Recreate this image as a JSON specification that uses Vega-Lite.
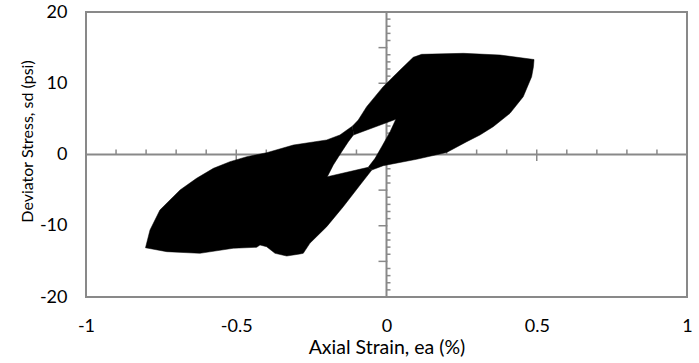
{
  "$schema": "https://vega.github.io/schema/vega-lite/v6.json",
  "width": 601,
  "height": 285,
  "autosize": {"type": "none"},
  "padding": {"left": 86, "top": 12, "right": 12, "bottom": 66},
  "background": "white",
  "config": {
    "view": {"stroke": "#898989", "strokeWidth": 2},
    "font": "Lato",
    "axis": {"grid": false, "domain": false, "ticks": false, "tickSize": 0, "labelColor": "#000000", "titleColor": "#000000", "labelFont": "Lato", "titleFont": "Lato", "titleFontWeight": "normal"}
  },
  "datasets": {
    "shape": [
      {"piece": "A", "i": 1, "x": -0.049, "y": -2.18},
      {"piece": "A", "i": 2, "x": -0.088, "y": -4.28},
      {"piece": "A", "i": 3, "x": -0.144, "y": -7.33},
      {"piece": "A", "i": 4, "x": -0.199, "y": -10.13},
      {"piece": "A", "i": 5, "x": -0.255, "y": -12.46},
      {"piece": "A", "i": 6, "x": -0.277, "y": -13.87},
      {"piece": "A", "i": 7, "x": -0.288, "y": -13.96},
      {"piece": "A", "i": 8, "x": -0.332, "y": -14.25},
      {"piece": "A", "i": 9, "x": -0.371, "y": -13.87},
      {"piece": "A", "i": 10, "x": -0.399, "y": -12.94},
      {"piece": "A", "i": 11, "x": -0.421, "y": -12.7},
      {"piece": "A", "i": 12, "x": -0.432, "y": -13.02},
      {"piece": "A", "i": 13, "x": -0.51, "y": -13.16},
      {"piece": "A", "i": 14, "x": -0.621, "y": -13.87},
      {"piece": "A", "i": 15, "x": -0.731, "y": -13.64},
      {"piece": "A", "i": 16, "x": -0.802, "y": -13.09},
      {"piece": "A", "i": 17, "x": -0.787, "y": -10.6},
      {"piece": "A", "i": 18, "x": -0.754, "y": -7.79},
      {"piece": "A", "i": 19, "x": -0.687, "y": -4.98},
      {"piece": "A", "i": 20, "x": -0.632, "y": -3.34},
      {"piece": "A", "i": 21, "x": -0.576, "y": -1.94},
      {"piece": "A", "i": 22, "x": -0.521, "y": -1.01},
      {"piece": "A", "i": 23, "x": -0.465, "y": -0.31},
      {"piece": "A", "i": 24, "x": -0.399, "y": 0.25},
      {"piece": "A", "i": 25, "x": -0.31, "y": 1.33},
      {"piece": "A", "i": 26, "x": -0.199, "y": 2.04},
      {"piece": "A", "i": 27, "x": -0.155, "y": 2.74},
      {"piece": "A", "i": 28, "x": -0.113, "y": 4.0},
      {"piece": "A", "i": 29, "x": -0.11, "y": 2.74},
      {"piece": "A", "i": 30, "x": -0.127, "y": 1.8},
      {"piece": "A", "i": 31, "x": -0.149, "y": 0.39},
      {"piece": "A", "i": 32, "x": -0.177, "y": -1.47},
      {"piece": "A", "i": 33, "x": -0.197, "y": -3.12},
      {"piece": "A", "i": 34, "x": -0.061, "y": -1.8},
      {"piece": "B", "i": 1, "x": -0.113, "y": 4.0},
      {"piece": "B", "i": 2, "x": -0.094, "y": 4.84},
      {"piece": "B", "i": 3, "x": -0.066, "y": 6.71},
      {"piece": "B", "i": 4, "x": -0.011, "y": 9.52},
      {"piece": "B", "i": 5, "x": 0.045, "y": 11.86},
      {"piece": "B", "i": 6, "x": 0.089, "y": 13.64},
      {"piece": "B", "i": 7, "x": 0.117, "y": 14.06},
      {"piece": "B", "i": 8, "x": 0.256, "y": 14.2},
      {"piece": "B", "i": 9, "x": 0.378, "y": 13.96},
      {"piece": "B", "i": 10, "x": 0.491, "y": 13.33},
      {"piece": "B", "i": 11, "x": 0.489, "y": 12.32},
      {"piece": "B", "i": 12, "x": 0.483, "y": 10.92},
      {"piece": "B", "i": 13, "x": 0.455, "y": 8.11},
      {"piece": "B", "i": 14, "x": 0.411, "y": 5.78},
      {"piece": "B", "i": 15, "x": 0.355, "y": 3.9},
      {"piece": "B", "i": 16, "x": 0.311, "y": 2.74},
      {"piece": "B", "i": 17, "x": 0.267, "y": 1.8},
      {"piece": "B", "i": 18, "x": 0.2, "y": 0.28},
      {"piece": "B", "i": 19, "x": 0.1, "y": -0.67},
      {"piece": "B", "i": 20, "x": -0.011, "y": -1.57},
      {"piece": "B", "i": 21, "x": -0.049, "y": -2.18},
      {"piece": "B", "i": 22, "x": -0.061, "y": -1.8},
      {"piece": "B", "i": 23, "x": -0.038, "y": -0.53},
      {"piece": "B", "i": 24, "x": -0.016, "y": 1.09},
      {"piece": "B", "i": 25, "x": 0.012, "y": 3.2},
      {"piece": "B", "i": 26, "x": 0.031, "y": 4.94},
      {"piece": "B", "i": 27, "x": -0.11, "y": 2.74}
    ],
    "xminor": [
      {"v": -0.9}, {"v": -0.8}, {"v": -0.7}, {"v": -0.6}, {"v": -0.4}, {"v": -0.3}, {"v": -0.2}, {"v": -0.1},
      {"v": 0.1}, {"v": 0.2}, {"v": 0.3}, {"v": 0.4}, {"v": 0.6}, {"v": 0.7}, {"v": 0.8}, {"v": 0.9}
    ],
    "xmajor": [{"v": -0.5}, {"v": 0.5}],
    "ymajor": [{"v": -15}, {"v": -10}, {"v": -5}, {"v": 5}, {"v": 10}, {"v": 15}],
    "yminor": [
      {"v": -19}, {"v": -18}, {"v": -17}, {"v": -16}, {"v": -14}, {"v": -13}, {"v": -12}, {"v": -11},
      {"v": -9}, {"v": -8}, {"v": -7}, {"v": -6}, {"v": -4}, {"v": -3}, {"v": -2}, {"v": -1},
      {"v": 1}, {"v": 2}, {"v": 3}, {"v": 4}, {"v": 6}, {"v": 7}, {"v": 8}, {"v": 9},
      {"v": 11}, {"v": 12}, {"v": 13}, {"v": 14}, {"v": 16}, {"v": 17}, {"v": 18}, {"v": 19}
    ]
  },
  "layer": [
    {
      "data": {"name": "shape"},
      "mark": {"type": "point", "opacity": 0},
      "encoding": {
        "x": {"field": "x", "type": "quantitative", "scale": {"domain": [-1, 1], "nice": false, "zero": false},
          "axis": {"values": [-1, -0.5, 0, 0.5, 1], "labelExpr": "'' + datum.value", "title": "Axial Strain, ea (%)", "labelFontSize": 18, "titleFontSize": 19.5, "labelBaseline": "alphabetic", "labelPadding": 34.5, "labelFlush": false, "titleBaseline": "alphabetic", "titleY": 56, "titleX": 300.5, "titleAlign": "center"}},
        "y": {"field": "y", "type": "quantitative", "scale": {"domain": [-20, 20], "nice": false, "zero": false},
          "axis": {"values": [-20, -15, -10, -5, 0, 5, 10, 15, 20], "labelExpr": "'' + datum.value", "title": "Deviator Stress, sd (psi)", "labelFontSize": 18, "titleFontSize": 16, "labelPadding": 19, "labelFlush": false, "titleAngle": -90, "titleX": -59, "titleY": 129, "titleAlign": "center", "titleBaseline": "middle"}}
      }
    },
    {
      "data": {"values": [{}]},
      "mark": {"type": "rule", "color": "#898989", "strokeWidth": 2},
      "encoding": {"y": {"datum": 0, "type": "quantitative"}}
    },
    {
      "data": {"values": [{}]},
      "mark": {"type": "rule", "color": "#898989", "strokeWidth": 2},
      "encoding": {"x": {"datum": 0, "type": "quantitative"}}
    },
    {
      "data": {"name": "xminor"},
      "mark": {"type": "rule", "color": "#898989", "strokeWidth": 1.5},
      "encoding": {"x": {"field": "v", "type": "quantitative"}, "y": {"datum": 0, "type": "quantitative"}, "y2": {"datum": 0.7}}
    },
    {
      "data": {"name": "xmajor"},
      "mark": {"type": "rule", "color": "#898989", "strokeWidth": 1.5},
      "encoding": {"x": {"field": "v", "type": "quantitative"}, "y": {"datum": 0.7, "type": "quantitative"}, "y2": {"datum": -0.91}}
    },
    {
      "data": {"name": "ymajor"},
      "mark": {"type": "rule", "color": "#898989", "strokeWidth": 1.5},
      "encoding": {"y": {"field": "v", "type": "quantitative"}, "x": {"datum": -0.0266, "type": "quantitative"}, "x2": {"datum": 0.003}}
    },
    {
      "data": {"name": "yminor"},
      "mark": {"type": "rule", "color": "#898989", "strokeWidth": 1.5},
      "encoding": {"y": {"field": "v", "type": "quantitative"}, "x": {"datum": 0, "type": "quantitative"}, "x2": {"datum": 0.0133}}
    },
    {
      "data": {"name": "shape"},
      "mark": {"type": "line", "fill": "#000000", "stroke": "#000000", "strokeWidth": 0.5, "interpolate": "linear"},
      "encoding": {
        "x": {"field": "x", "type": "quantitative"},
        "y": {"field": "y", "type": "quantitative"},
        "detail": {"field": "piece", "type": "nominal"},
        "order": {"field": "i", "type": "quantitative"}
      }
    }
  ]
}
